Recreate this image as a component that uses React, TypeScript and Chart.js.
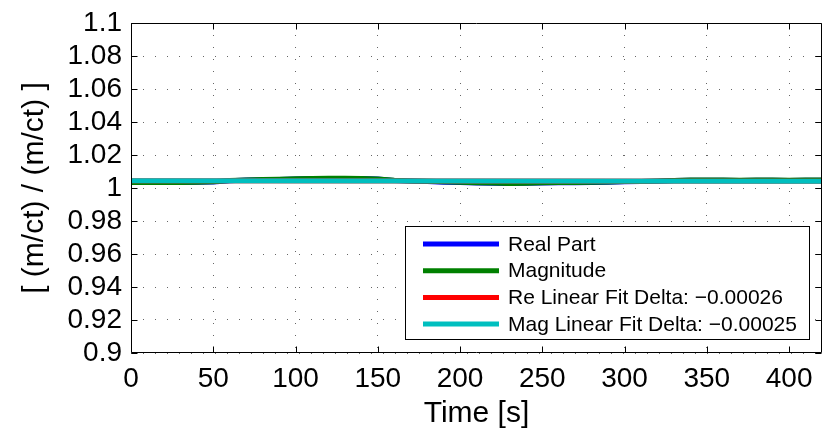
import { useEffect, useRef } from 'react';
import { Chart, registerables } from 'chart.js';

Chart.register(...registerables);

const timeS = [0, 10, 20, 30, 40, 50, 60, 70, 80, 90, 100, 110, 120, 130, 140, 150, 160, 170, 180, 190, 200, 210, 220, 230, 240, 250, 260, 270, 280, 290, 300, 310, 320, 330, 340, 350, 360, 370, 380, 390, 400, 410, 420];
const realPart = [1.0033, 1.0033, 1.0034, 1.0034, 1.0035, 1.0037, 1.0044, 1.0048, 1.005, 1.0052, 1.0055, 1.0057, 1.0058, 1.0058, 1.0057, 1.0054, 1.0046, 1.0042, 1.0039, 1.0035, 1.0033, 1.0031, 1.0029, 1.0028, 1.0029, 1.0031, 1.0032, 1.0032, 1.0033, 1.0035, 1.0038, 1.0039, 1.0041, 1.0045, 1.0047, 1.0047, 1.0047, 1.0046, 1.0047, 1.0047, 1.0046, 1.0047, 1.0047];
const magnitude = [1.0033, 1.0033, 1.0033, 1.0034, 1.0035, 1.0038, 1.0045, 1.0049, 1.0051, 1.0053, 1.0056, 1.0058, 1.0059, 1.0059, 1.0058, 1.0055, 1.0047, 1.0043, 1.0041, 1.0038, 1.0035, 1.0032, 1.003, 1.0028, 1.0029, 1.0032, 1.0034, 1.0034, 1.0035, 1.0037, 1.0039, 1.004, 1.0042, 1.0046, 1.0048, 1.0048, 1.0048, 1.0047, 1.0048, 1.0048, 1.0047, 1.0048, 1.0048];
const fitTime = [0, 420];
const reLinearFit = [1.00437, 1.00411];
const magLinearFit = [1.0044, 1.00415];

const xTicks = [0, 50, 100, 150, 200, 250, 300, 350, 400];
const yTicks = [0.9, 0.92, 0.94, 0.96, 0.98, 1, 1.02, 1.04, 1.06, 1.08, 1.1];
const yTickLabels = ['0.9', '0.92', '0.94', '0.96', '0.98', '1', '1.02', '1.04', '1.06', '1.08', '1.1'];

const seriesLabels = ['Real Part', 'Magnitude', 'Re Linear Fit Delta: \u22120.00026', 'Mag Linear Fit Delta: \u22120.00025'];
const seriesColors = ['#0000ff', '#008000', '#ff0000', '#00bfbf'];

const FONT = "'Liberation Sans', Arial, Helvetica, sans-serif";

const framePlugin = {
  id: 'matlabFrame',
  afterDraw(chart: any) {
    const { ctx, chartArea, scales } = chart;
    const { left, right, top, bottom } = chartArea;
    ctx.save();
    ctx.strokeStyle = '#000';
    ctx.lineWidth = 1;
    const L = Math.round(left) + 0.5;
    const R = Math.round(right) - 0.5;
    const T = Math.round(top) + 0.5;
    const B = Math.round(bottom) - 0.5;
    ctx.beginPath();
    ctx.rect(L, T, R - L, B - T);
    ctx.stroke();
    const tl = 6;
    ctx.beginPath();
    for (const t of scales.x.ticks) {
      const px = Math.round(scales.x.getPixelForValue(t.value)) + 0.5;
      ctx.moveTo(px, B);
      ctx.lineTo(px, B - tl);
      ctx.moveTo(px, T);
      ctx.lineTo(px, T + tl);
    }
    for (const t of scales.y.ticks) {
      const py = Math.round(scales.y.getPixelForValue(t.value)) + 0.5;
      ctx.moveTo(L, py);
      ctx.lineTo(L + tl, py);
      ctx.moveTo(R, py);
      ctx.lineTo(R - tl, py);
    }
    ctx.stroke();

    // legend
    const boxW = 404;
    const boxH = 113;
    const bx = Math.round(right) - 13 - boxW;
    const by = Math.round(bottom) - 14 - boxH;
    ctx.fillStyle = '#fff';
    ctx.fillRect(bx, by, boxW, boxH);
    ctx.strokeStyle = '#000';
    ctx.lineWidth = 1;
    ctx.strokeRect(bx + 0.5, by + 0.5, boxW, boxH);
    ctx.font = `21px ${FONT}`;
    ctx.textBaseline = 'middle';
    ctx.textAlign = 'left';
    seriesLabels.forEach((label, i) => {
      const y = by + 18 + i * 26.7;
      ctx.strokeStyle = seriesColors[i];
      ctx.lineWidth = 5;
      ctx.beginPath();
      ctx.moveTo(bx + 18, y);
      ctx.lineTo(bx + 94, y);
      ctx.stroke();
      ctx.fillStyle = '#000';
      ctx.fillText(label, bx + 103, y + 1);
    });
    ctx.restore();
  },
};

export default function App() {
  const canvasRef = useRef<HTMLCanvasElement | null>(null);

  useEffect(() => {
    document.body.style.margin = '0';
    const canvas = canvasRef.current;
    if (!canvas) return;
    const toPts = (xs: number[], ys: number[]) => xs.map((x, i) => ({ x, y: ys[i] }));
    const lineDs = (label: string, data: any[], color: string, order: number) => ({
      label,
      data,
      borderColor: color,
      backgroundColor: color,
      borderWidth: 5,
      pointRadius: 0,
      tension: 0,
      fill: false,
      order,
    });
    const chart = new Chart(canvas, {
      type: 'line',
      data: {
        datasets: [
          lineDs(seriesLabels[0], toPts(timeS, realPart), seriesColors[0], 3),
          lineDs(seriesLabels[1], toPts(timeS, magnitude), seriesColors[1], 2),
          lineDs(seriesLabels[2], toPts(fitTime, reLinearFit), seriesColors[2], 1),
          lineDs(seriesLabels[3], toPts(fitTime, magLinearFit), seriesColors[3], 0),
        ],
      },
      options: {
        animation: false,
        responsive: false,
        maintainAspectRatio: false,
        devicePixelRatio: 1,
        layout: { padding: { left: 13, right: 3, top: 16, bottom: 0 } },
        plugins: {
          legend: { display: false },
          tooltip: { enabled: false },
        },
        scales: {
          x: {
            type: 'linear',
            min: 0,
            max: 420,
            afterBuildTicks: (s: any) => {
              s.ticks = xTicks.map((v) => ({ value: v }));
            },
            afterFit: (s: any) => {
              s.height = 81;
            },
            grid: { drawTicks: false, color: '#666', lineWidth: 1 },
            border: { display: false, dash: [1, 11] },
            ticks: {
              padding: 12,
              color: '#000',
              maxRotation: 0,
              autoSkip: false,
              font: { family: FONT, size: 28, lineHeight: 1 },
              callback: (v: any) => String(v),
            },
            title: {
              display: true,
              text: 'Time [s]',
              color: '#000',
              font: { family: FONT, size: 30 },
              padding: { top: 0, bottom: 2 },
            },
          },
          y: {
            type: 'linear',
            min: 0.9,
            max: 1.1,
            afterBuildTicks: (s: any) => {
              s.ticks = yTicks.map((v) => ({ value: v }));
            },
            afterFit: (s: any) => {
              s.width = 118;
            },
            grid: { drawTicks: false, color: '#666', lineWidth: 1 },
            border: { display: false, dash: [1, 11] },
            ticks: {
              padding: 9,
              color: '#000',
              autoSkip: false,
              font: { family: FONT, size: 28, lineHeight: 1 },
              callback: (v: any, i: number) => yTickLabels[i],
            },
            title: {
              display: true,
              text: '[ (m/ct) / (m/ct) ]',
              color: '#000',
              font: { family: FONT, size: 30 },
              padding: { top: 4, bottom: 0 },
            },
          },
        },
      },
      plugins: [framePlugin],
    });
    return () => chart.destroy();
  }, []);

  return (
    <div style={{ width: 825, height: 434 }}>
      <canvas ref={canvasRef} width={825} height={434} style={{ display: 'block', width: 825, height: 434 }} />
    </div>
  );
}
